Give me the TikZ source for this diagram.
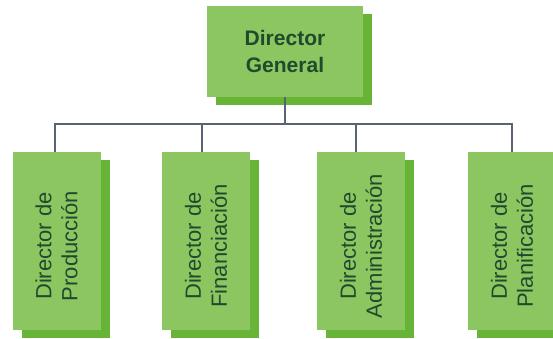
\documentclass[tikz,border=0pt]{standalone}
\usepackage{fontspec}
\setmainfont{Liberation Sans}
\usetikzlibrary{shadows}
\definecolor{frontgreen}{HTML}{8CC660}
\definecolor{shadegreen}{HTML}{68B436}
\definecolor{textgreen}{HTML}{1E4A2E}
\definecolor{linegray}{HTML}{5A6276}
\begin{document}
\begin{tikzpicture}[x=1pt,y=-1pt,
  boxbase/.style={fill=frontgreen, text=textgreen, inner sep=0pt,
    general shadow={fill=shadegreen, shadow xshift=9pt, shadow yshift=-8pt}},
  topbox/.style={boxbase, minimum width=156pt, minimum height=91pt,
    font=\bfseries\fontsize{21}{27}\selectfont, align=center},
  subbox/.style={boxbase, minimum width=88pt, minimum height=178pt},
  subtext/.style={rotate=90, text=textgreen, align=center, xshift=-5pt,
    font=\fontsize{22}{26}\selectfont},
  conn/.style={draw=linegray, line width=1.6pt}]
\useasboundingbox (0,0) rectangle (553,338);
\node[topbox] (dg) at (285,51.5) {Director\\General};
\node[subbox] (p) at (56.5,241) {};
\node[subbox] (f) at (206,241) {};
\node[subbox] (a) at (361,241) {};
\node[subbox] (pl) at (512,241) {};
\node[subtext] (tp) at (p.center) {Director de\\Producción};
\node[subtext] (tf) at (f.center) {Director de\\Financiación};
\node[subtext] (ta) at (a.center) {Director de\\Administración};
\node[subtext] (tpl) at (pl.center) {Director de\\Planificación};
\coordinate (bus) at (0,124);
\draw[conn] (dg.south) -- (dg.south |- bus);
\draw[conn] ([xshift=-1.5pt]p.north) -- ([xshift=-1.5pt]p.north |- bus) -- (pl.north |- bus) -- (pl.north);
\draw[conn] ([xshift=-4pt]f.north) -- ([xshift=-4pt]f.north |- bus);
\draw[conn] ([xshift=-5pt]a.north) -- ([xshift=-5pt]a.north |- bus);
\end{tikzpicture}
\end{document}
